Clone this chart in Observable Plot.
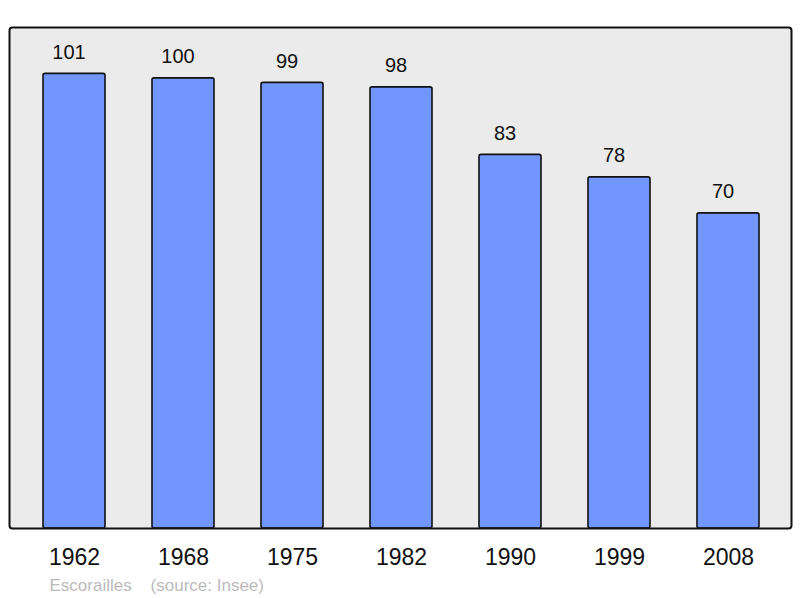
<!DOCTYPE html>
<html>
<head>
<meta charset="utf-8">
<script src="https://cdn.jsdelivr.net/npm/d3@7"></script>
<script src="https://cdn.jsdelivr.net/npm/@observablehq/plot@0.6"></script>
<style>
  html, body { margin: 0; padding: 0; background: #fff; }
  #chart svg { display: block; font-family: "Liberation Sans", Arial, sans-serif; }
</style>
</head>
<body>
<div id="chart"></div>
<script>
const years = ["1962", "1968", "1975", "1982", "1990", "1999", "2008"];
const population = [101, 100, 99, 98, 83, 78, 70];
const commune = "Escorailles";
const source = "(source: Insee)";

const data = years.map((year, i) => ({year, value: population[i]}));

const chart = Plot.plot({
  width: 800,
  height: 598,
  marginLeft: 9,
  marginRight: 9,
  marginTop: 27,
  marginBottom: 70,
  style: {fontFamily: "'Liberation Sans', Arial, sans-serif", background: "#fff"},
  x: {type: "band", domain: years, paddingInner: 0.433, paddingOuter: 0.29, align: 0.52, label: null},
  y: {domain: [0, 111.3], axis: null},
  marks: [
    Plot.frame({fill: "#ebebeb", stroke: "none", rx: 3}),
    Plot.barY(data, {x: "year", y: "value", fill: "#7196ff", stroke: "#111", strokeWidth: 1.6, rx: 2}),
    Plot.text(data, {x: "year", y: "value", text: d => String(d.value), lineAnchor: "bottom", dy: -15, dx: -5.5, fontSize: 20, fill: "#111"}),
    Plot.frame({stroke: "#111", strokeWidth: 2, rx: 3}),
    Plot.axisX({tickSize: 0, tickPadding: 20, fontSize: 23, color: "#111", label: null}),
    Plot.text([commune + "\u00a0\u00a0\u00a0\u00a0" + source], {frameAnchor: "bottom-left", dx: 40, dy: 62, lineAnchor: "bottom", textAnchor: "start", fontSize: 17, fill: "#bbbbbb"})
  ]
});
document.getElementById("chart").appendChild(chart);
</script>
</body>
</html>
